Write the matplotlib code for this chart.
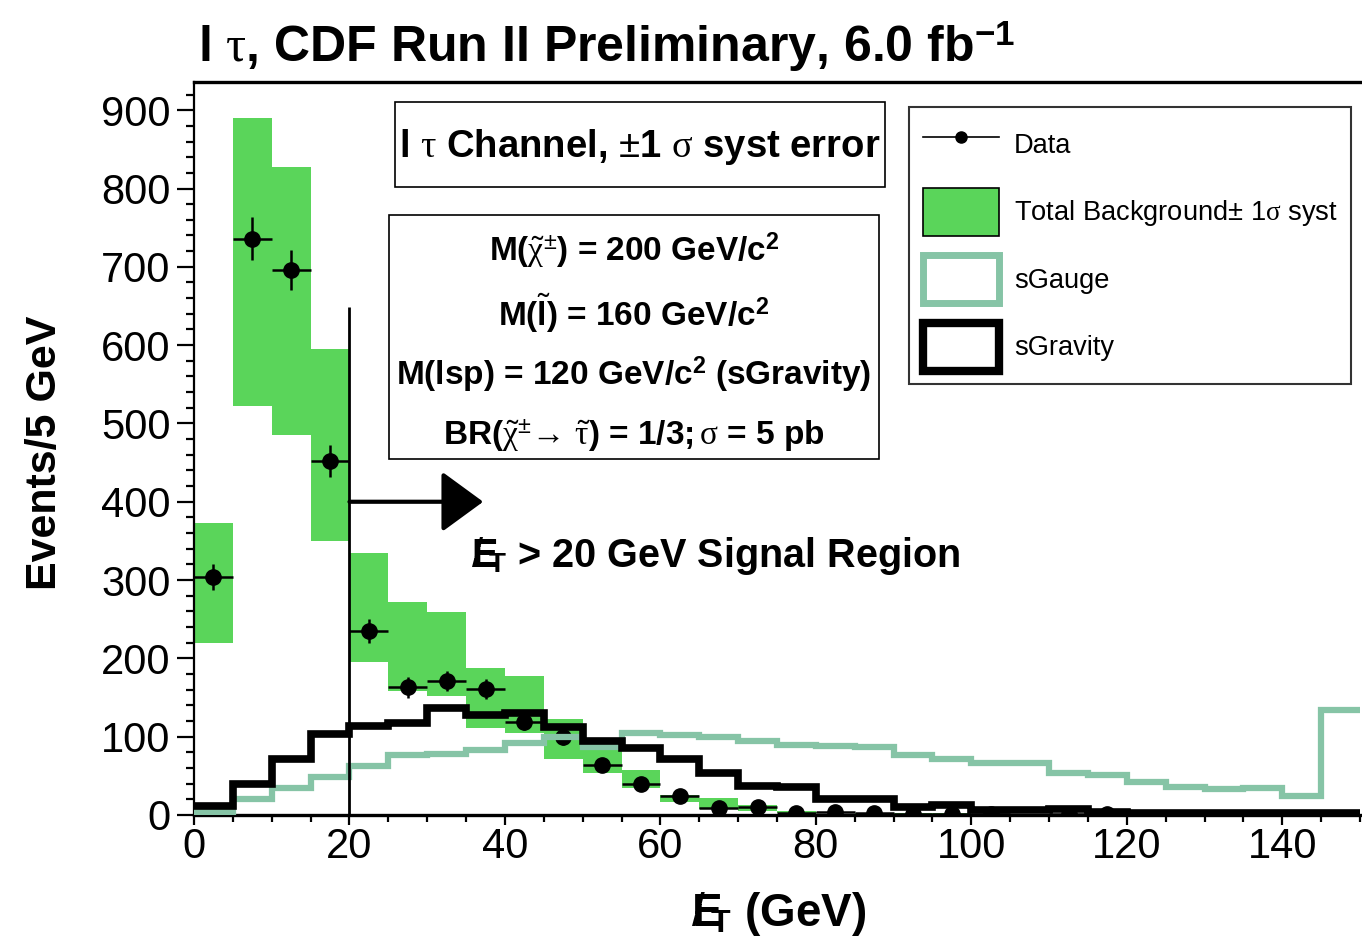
import numpy as np
import matplotlib
matplotlib.use("Agg")
import matplotlib.pyplot as plt
from matplotlib.patches import Rectangle, Patch
from matplotlib.lines import Line2D

plt.rcParams['font.family'] = ['Liberation Sans', 'DejaVu Sans']
plt.rcParams['mathtext.fontset'] = 'custom'
plt.rcParams['mathtext.rm'] = 'Liberation Sans'
plt.rcParams['mathtext.bf'] = 'Liberation Sans:bold'
plt.rcParams['mathtext.it'] = 'Liberation Serif'
plt.rcParams['mathtext.sf'] = 'Liberation Sans'

# MET binning, 5 GeV per bin
bin_edges = np.arange(0, 155, 5)

# data counts per bin (0 = no entry)
data_counts = [304, 736, 696, 452, 235, 163, 171, 161, 119, 100,
               64, 40, 24, 9, 10, 3, 4, 3, 1, 1,
               1, 0, 1, 1, 0, 0, 0, 0, 0, 0]
data_errs = [17, 27, 26, 21, 15, 13, 13, 13, 11, 10,
             8, 6, 5, 3, 3, 1.7, 2, 1.7, 1, 1,
             1, 0, 1, 1, 0, 0, 0, 0, 0, 0]

# total background +- 1 sigma systematic
bkg_low = [220, 522, 485, 350, 195, 158, 152, 111, 105, 72,
           54, 34, 16, 8, 5, 2, 2, 1, 0.5, 0.5,
           0, 0, 0, 0, 0, 0, 0, 0, 0, 0]
bkg_high = [373, 890, 828, 595, 335, 272, 259, 188, 178, 123,
            88, 57, 26, 22, 13, 5, 4, 3, 2, 2,
            1, 1, 1, 1, 0, 0, 0, 0, 0, 0]

# signal expectations
sgauge = [4, 20, 35, 49, 63, 76, 78, 83, 92, 100,
          87, 105, 102, 99, 94, 90, 88, 87, 76, 72,
          67, 66, 54, 51, 42, 36, 33, 34, 24, 134]
sgravity = [11, 40, 71, 103, 114, 117, 136, 128, 130, 112,
            94, 85, 72, 53, 37, 36, 20, 20, 10, 13,
            6, 6, 8, 4, 2, 2, 2, 2, 2, 2]

met_cut = 20
arrow_y = 400
arrow_end = 37.2
cut_line_top = 649

green = '#5ad55a'
teal = '#86c4a6'

# missing transverse energy symbol
met = r'$\mathbf{E}\!\!\!\!\!/\,{}_{\mathbf{T}}$'

W, H = 1362, 941


def px(x, y):
    return x / W, 1 - y / H


fig = plt.figure(figsize=(13.62, 9.41), dpi=100)
ax = fig.add_axes([194 / W, 1 - 815 / H, (1360 - 194) / W, (815 - 82) / H])

centers = 0.5 * (bin_edges[:-1] + bin_edges[1:])

ax.stairs(bkg_high, bin_edges, baseline=bkg_low, fill=True, color=green,
          lw=0, zorder=1)

counts = np.array(data_counts, dtype=float)
errs = np.array(data_errs, dtype=float)
has = counts > 0
ax.errorbar(centers[has], counts[has], xerr=2.5, yerr=errs[has], fmt='o',
            color='k', ms=11, elinewidth=1.8, capsize=0, zorder=2)

ax.stairs(sgauge, bin_edges, baseline=None, color=teal, lw=4.5, zorder=3)
ax.stairs(sgravity, bin_edges, baseline=None, color='k', lw=5.5, zorder=4)

# signal region cut
ax.vlines(met_cut, 0, cut_line_top, color='k', lw=2, zorder=5)
ax.annotate('', xy=(arrow_end, arrow_y), xytext=(met_cut, arrow_y),
            arrowprops=dict(arrowstyle='-|>,head_length=1.3,head_width=0.95',
                            mutation_scale=20, lw=3, color='k',
                            shrinkA=0, shrinkB=0), zorder=5)

ax.set_xlim(0, 150)
ax.set_ylim(0, 936)
ax.set_xticks(np.arange(0, 141, 20))
ax.set_xticks(np.arange(0, 151, 5), minor=True)
ax.set_yticks(np.arange(0, 901, 100))
ax.set_yticks(np.arange(0, 931, 20), minor=True)
ax.tick_params(which='both', direction='out', width=1.6, labelsize=30,
               top=False, right=False)
ax.tick_params(axis='y', which='major', length=12, pad=5)
ax.tick_params(axis='y', which='minor', length=6)
ax.tick_params(axis='x', which='major', length=7, pad=2)
ax.tick_params(axis='x', which='minor', length=5)
ax.spines['right'].set_visible(False)
ax.spines['top'].set_linewidth(2.4)
ax.spines['bottom'].set_linewidth(2.4)
ax.spines['left'].set_linewidth(1.6)

# axis titles
fig.text(*px(45, 453), 'Events/5 GeV', rotation=90, ha='center', va='center',
         fontsize=31, fontweight='bold')
fig.text(*px(779, 914), met + ' (GeV)',
         ha='center', va='center', fontsize=33, fontweight='bold')

# title
fig.text(*px(198, 47), r'l $\tau$, CDF Run II Preliminary, 6.0 fb$^{\mathbf{-1}}$',
         ha='left', va='center', fontsize=36, fontweight='bold')

# channel box
fig.patches.append(Rectangle(px(395, 187), (885 - 395) / W, (187 - 102) / H,
                             transform=fig.transFigure, fill=False, lw=1.2,
                             ec='k'))
fig.text(*px(640, 147), r'l $\tau$ Channel, $\pm$1 $\sigma$ syst error',
         ha='center', va='center', fontsize=27.5, fontweight='bold')

# mass point box
fig.patches.append(Rectangle(px(389, 459), (879 - 389) / W, (459 - 215) / H,
                             transform=fig.transFigure, fill=False, lw=1.2,
                             ec='k'))
mass_lines = [r'M($\tilde{\chi}^{\pm}$) = 200 GeV/c$^{\mathbf{2}}$',
              r'M($\tilde{\mathbf{l}}$) = 160 GeV/c$^{\mathbf{2}}$',
              r'M(lsp) = 120 GeV/c$^{\mathbf{2}}$ (sGravity)',
              r'BR($\tilde{\chi}^{\pm}\!\rightarrow\,\tilde{\tau}$) = 1/3;$\,\sigma$ = 5 pb']
for yy, s in zip([251, 313, 375, 436], mass_lines):
    fig.text(*px(634, yy), s, ha='center', va='center', fontsize=24,
             fontweight='bold')

fig.text(*px(471, 556), met + ' > 20 GeV Signal Region',
         ha='left', va='center', fontsize=28.5, fontweight='bold')

# legend
handles = [Line2D([], [], color='k', marker='o', lw=1.2, ms=8),
           Patch(facecolor=green, edgecolor='k', lw=1.2),
           Patch(facecolor='white', edgecolor=teal, lw=5),
           Patch(facecolor='white', edgecolor='k', lw=6)]
labels = ['Data', r'Total Background$\pm$ 1$\sigma$ syst', 'sGauge', 'sGravity']
leg = fig.legend(handles, labels, loc='upper left', bbox_to_anchor=px(909, 107),
                 fontsize=19.6, frameon=True, fancybox=False, edgecolor='k',
                 handlelength=2.8, handleheight=2.35, labelspacing=0.7,
                 borderpad=0.5, handletextpad=0.55, borderaxespad=0)
leg.get_frame().set_linewidth(1.5)

fig.savefig('out.png', dpi=100)
